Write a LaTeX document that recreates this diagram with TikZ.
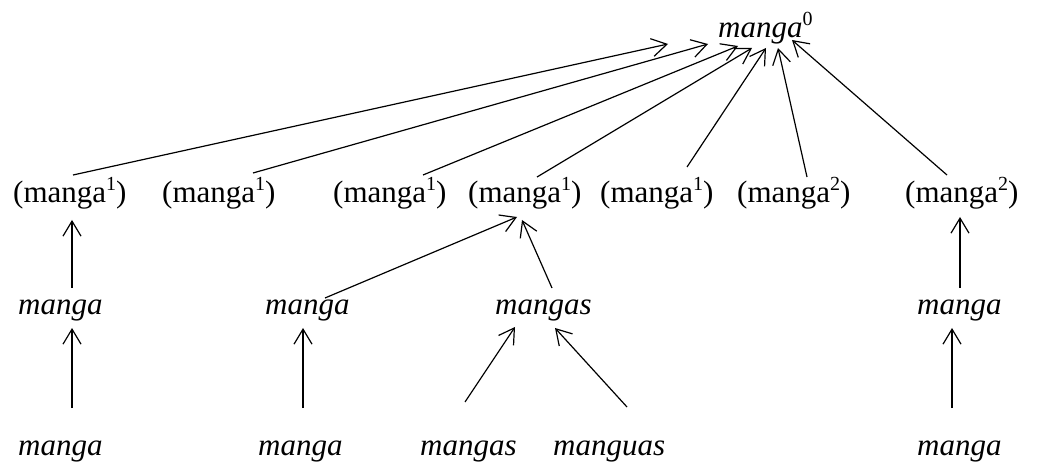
\documentclass[tikz,border=0pt]{standalone}
\usepackage{fontspec}
\setmainfont{Liberation Serif}
\usetikzlibrary{arrows.meta,calc}
\newcommand\mysup[1]{\raisebox{12pt}{\fontsize{20}{20}\selectfont #1}}
\begin{document}
\begin{tikzpicture}[x=1pt,y=-1pt,
  lbl/.style={inner sep=0pt,anchor=base west,font=\fontsize{31}{36}\selectfont},
  arr/.style={line width=1.2pt,-{Straight Barb[length=15pt,width=18pt]}}]
\useasboundingbox (0,0) rectangle (1037,465);
% row 1
\node[lbl] (top) at (718,38) {\textit{manga}\mysup{0}};
% row 2
\node[lbl] (r2a) at (13,203) {(manga\mysup{1})};
\node[lbl] (r2b) at (162,203) {(manga\mysup{1})};
\node[lbl] (r2c) at (333,203) {(manga\mysup{1})};
\node[lbl] (r2d) at (468,203) {(manga\mysup{1})};
\node[lbl] (r2e) at (600,203) {(manga\mysup{1})};
\node[lbl] (r2f) at (737,203) {(manga\mysup{2})};
\node[lbl] (r2g) at (905,203) {(manga\mysup{2})};
% row 3
\node[lbl] (r3a) at (18,315) {\textit{manga}};
\node[lbl] (r3b) at (265,315) {\textit{manga}};
\node[lbl] (r3c) at (495,315) {\textit{mangas}};
\node[lbl] (r3d) at (917,315) {\textit{manga}};
% row 4
\node[lbl] (r4a) at (18,455) {\textit{manga}};
\node[lbl] (r4b) at (258,455) {\textit{manga}};
\node[lbl] (r4c) at (420,455) {\textit{mangas}};
\node[lbl] (r4d) at (553,455) {\textit{manguas}};
\node[lbl] (r4e) at (917,455) {\textit{manga}};
% row 2 -> top
\draw[arr] ($(r2a.base west)+(60,-28)$) -- ($(top.base west)+(-50,6)$);
\draw[arr] ($(r2b.base west)+(91,-30)$) -- ($(top.base west)+(-10,6)$);
\draw[arr] ($(r2c.base west)+(90,-28)$) -- ($(top.base west)+(20,8)$);
\draw[arr] ($(r2d.base west)+(69,-26)$) -- ($(top.base west)+(34,10)$);
\draw[arr] ($(r2e.base west)+(87,-36)$) -- ($(top.base west)+(48,10)$);
\draw[arr] ($(r2f.base west)+(70,-26)$) -- ($(top.base west)+(60,10)$);
\draw[arr] ($(r2g.base west)+(42,-28)$) -- ($(top.base west)+(74,2)$);
% row 3 -> row 2
\draw[arr] ($(r3a.base west)+(54,-27)$) -- ($(r2a.base west)+(59,17)$);
\draw[arr] ($(r3b.base west)+(60,-17)$) -- ($(r2d.base west)+(49,14)$);
\draw[arr] ($(r3c.base west)+(57,-27)$) -- ($(r2d.base west)+(54,17)$);
\draw[arr] ($(r3d.base west)+(43,-27)$) -- ($(r2g.base west)+(55,14)$);
% row 4 -> row 3
\draw[arr] ($(r4a.base west)+(54,-47)$) -- ($(r3a.base west)+(54,13)$);
\draw[arr] ($(r4b.base west)+(45,-47)$) -- ($(r3b.base west)+(38,13)$);
\draw[arr] ($(r4c.base west)+(45,-53)$) -- ($(r3c.base west)+(20,12)$);
\draw[arr] ($(r4d.base west)+(74,-48)$) -- ($(r3c.base west)+(60,13)$);
\draw[arr] ($(r4e.base west)+(35,-47)$) -- ($(r3d.base west)+(35,13)$);
\end{tikzpicture}
\end{document}
